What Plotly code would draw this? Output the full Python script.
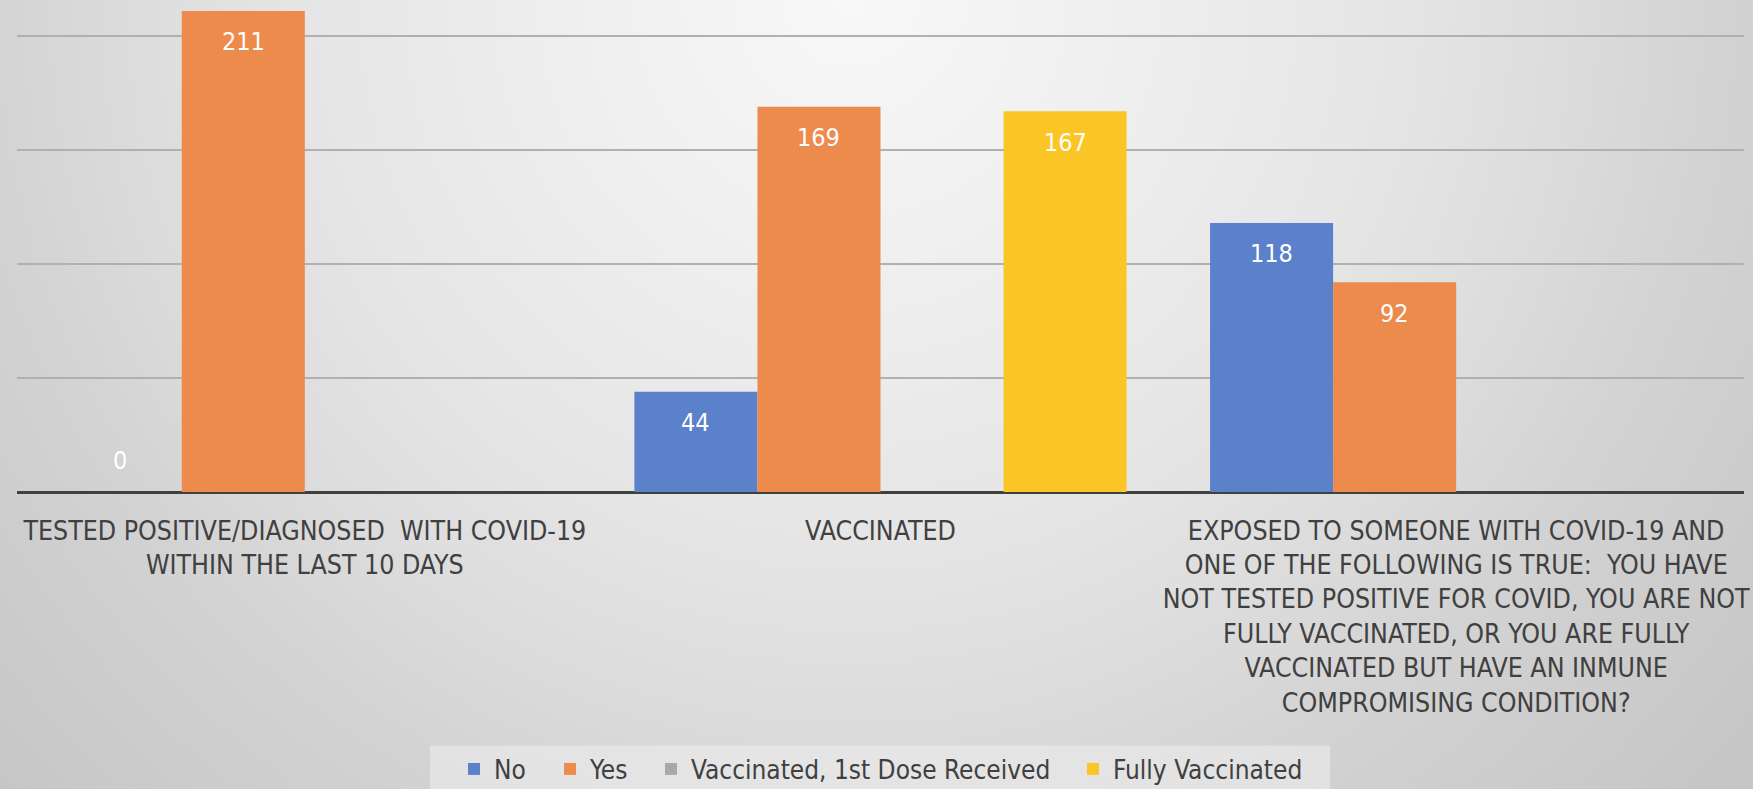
import base64
import plotly.graph_objects as go

categories = [
    "TESTED POSITIVE/DIAGNOSED  WITH COVID-19<br>WITHIN THE LAST 10 DAYS",
    "VACCINATED",
    "EXPOSED TO SOMEONE WITH COVID-19 AND<br>ONE OF THE FOLLOWING IS TRUE:  YOU HAVE<br>NOT TESTED POSITIVE FOR COVID, YOU ARE NOT<br>FULLY VACCINATED, OR YOU ARE FULLY<br>VACCINATED BUT HAVE AN INMUNE<br>COMPROMISING CONDITION?",
]
series_names = ["No", "Yes", "Vaccinated, 1st Dose Received", "Fully Vaccinated"]
no_vals = [0, 44, 118]
yes_vals = [211, 169, 92]
first_dose_vals = [None, None, None]
fully_vals = [None, 167, None]

series_values = [no_vals, yes_vals, first_dose_vals, fully_vals]
colors = ["#5a81c9", "#ec8b4c", "#a8a8a8", "#fcc526"]

FONT = "DejaVu Sans Condensed, DejaVu Sans, sans-serif"
BARGAP = 0.145

W, H = 1753, 789
L, R, T, B = 17, 9, 0, 297
pw = W - L - R
ph = H - T - B

legend_ids = ["legend", "legend2", "legend3", "legend4"]
legend_left_px = [454, 550, 651, 1073]   # legend entry left edges (layout)
legend_mid_px = 769

fig = go.Figure()
for name, vals, col, lid in zip(series_names, series_values, colors, legend_ids):
    fig.add_trace(go.Bar(name=name, x=list(range(len(categories))), y=vals,
                         marker=dict(color=col, line=dict(width=0)),
                         legend=lid, hoverinfo="skip"))

# data labels
n = len(series_names)
w = (1 - BARGAP) / n
annotations = []
for j, vals in enumerate(series_values):
    for i, v in enumerate(vals):
        if v is None:
            continue
        annotations.append(dict(
            x=i + (j - (n - 1) / 2) * w, y=v, xref="x", yref="y",
            text=str(v), showarrow=False,
            font=dict(family=FONT, size=25, color="white"),
            yshift=-31 if v > 0 else 32,
        ))

# radial gradient background
svg = (
    '<svg xmlns="http://www.w3.org/2000/svg" width="1753" height="789" viewBox="0 0 1753 789">'
    '<defs><radialGradient id="g" gradientUnits="userSpaceOnUse" cx="850" cy="0" r="1200">'
    '<stop offset="0" stop-color="#f8f8f8"/>'
    '<stop offset="0.23" stop-color="#efefef"/>'
    '<stop offset="0.46" stop-color="#e5e5e5"/>'
    '<stop offset="0.6" stop-color="#dcdcdc"/>'
    '<stop offset="0.72" stop-color="#d3d3d3"/>'
    '<stop offset="0.97" stop-color="#c6c6c6"/>'
    '</radialGradient></defs>'
    '<rect width="1753" height="789" fill="url(#g)"/></svg>'
)
src = "data:image/svg+xml;base64," + base64.b64encode(svg.encode()).decode()

fig.add_layout_image(dict(
    source=src, xref="paper", yref="paper",
    x=-L / pw, y=1 + T / ph, sizex=W / pw, sizey=H / ph,
    xanchor="left", yanchor="top", sizing="stretch", layer="below",
))

# legend box
fig.add_shape(type="rect", xref="paper", yref="paper",
              x0=(430 - L) / pw, x1=(1330 - L) / pw,
              y0=-(H - T - ph) / ph - 0.01, y1=(ph - (745.5 - T)) / ph,
              fillcolor="rgba(236,236,236,0.6)", line=dict(width=0), layer="below")

layout_legends = {}
for lid, lx in zip(legend_ids, legend_left_px):
    layout_legends[lid] = dict(
        orientation="h", xref="container", yref="container",
        x=lx / W, xanchor="left",
        y=1 - legend_mid_px / H, yanchor="middle",
        bgcolor="rgba(0,0,0,0)", borderwidth=0,
        font=dict(family=FONT, size=26, color="#404040"),
        itemclick=False, itemdoubleclick=False,
    )

fig.update_layout(
    width=W, height=H,
    margin=dict(l=L, r=R, t=T, b=B, pad=0, autoexpand=False),
    paper_bgcolor="#dcdcdc", plot_bgcolor="rgba(0,0,0,0)",
    barmode="group", bargap=BARGAP, bargroupgap=0,
    annotations=annotations,
    showlegend=True,
    font=dict(family=FONT, color="#404040"),
    **layout_legends,
)
fig.update_xaxes(
    tickmode="array", tickvals=list(range(len(categories))), ticktext=categories,
    range=[-0.5, len(categories) - 0.5], automargin=False,
    showgrid=False, showline=False, zeroline=False, ticks="",
    tickfont=dict(family=FONT, size=26.5, color="#404040"),
    ticklabelstandoff=20,
)
fig.update_yaxes(
    range=[0, 215.8], dtick=50, showticklabels=False, automargin=False,
    showgrid=True, gridcolor="#b0b0b0", gridwidth=2,
    zeroline=True, zerolinecolor="#404040", zerolinewidth=3,
)

fig.write_html("out.html", config={"displayModeBar": False},
               post_script="document.body.style.margin='0px';document.body.style.overflow='hidden';")
